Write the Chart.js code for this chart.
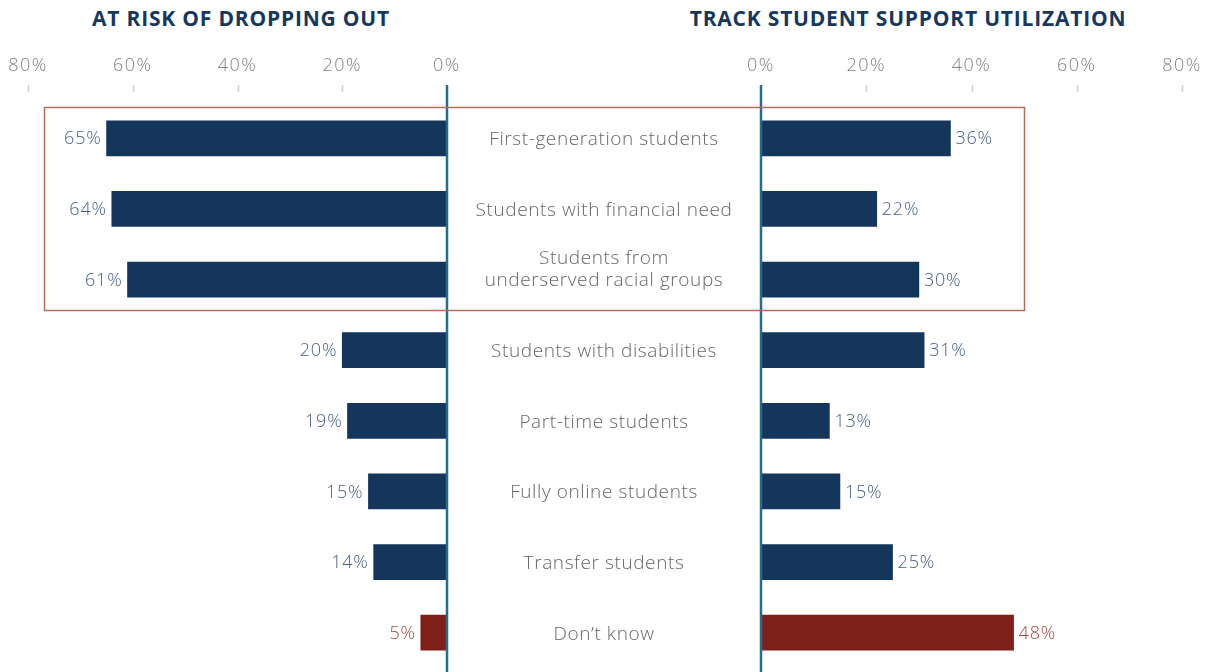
<!DOCTYPE html>
<html><head><meta charset="utf-8">
<script src="https://cdn.jsdelivr.net/npm/chart.js@4.4.1/dist/chart.umd.min.js"></script>
<style>
html,body{margin:0;padding:0;background:#fff;width:1213px;height:672px;overflow:hidden;}
#wrap{position:relative;width:1213px;height:672px;}
canvas{position:absolute;left:0;top:0;}
.title{position:absolute;top:4px;font-family:"Open Sans",sans-serif;font-weight:700;font-size:21px;line-height:28px;color:#17375e;white-space:nowrap;transform:translateX(-50%);letter-spacing:0.8px;}
</style></head><body>
<div id="wrap">
<div class="title" style="left:241px">AT RISK OF DROPPING OUT</div>
<div class="title" style="left:908px">TRACK STUDENT SUPPORT UTILIZATION</div>
<canvas id="leftCanvas" width="1213" height="672"></canvas>
<canvas id="rightCanvas" width="1213" height="672"></canvas>
</div>
<script>
const categories = [
  ["First-generation students"],
  ["Students with financial need"],
  ["Students from", "underserved racial groups"],
  ["Students with disabilities"],
  ["Part-time students"],
  ["Fully online students"],
  ["Transfer students"],
  ["Don\u2019t know"]
];
const atRiskValues = [65, 64, 61, 20, 19, 15, 14, 5];
const trackUtilValues = [36, 22, 30, 31, 13, 15, 25, 48];
const tickValues = [0, 20, 40, 60, 80];
const highlightedRows = [0, 1, 2];
const dontKnowIndex = 7;

const NAVY = '#14365a';
const RED = '#7f1f1a';
const VALUE_NAVY = '#4a6288';
const VALUE_RED = '#a5463f';
const FONT = '"Open Sans", sans-serif';

function barColors(n) {
  return Array.from({length: n}, (_, i) => i === dontKnowIndex ? RED : NAVY);
}

const TICK_TOP = 85, TICK_BOTTOM = 92;

const spacingPlugin = {
  id: 'spacing',
  beforeDraw(chart) { chart.ctx.letterSpacing = '1.5px'; }
};

function decorPlugin(side) {
  return {
    id: 'decor_' + side,
    afterDatasetsDraw(chart) {
      const ctx = chart.ctx;
      const xs = chart.scales.x;
      ctx.save();
      ctx.strokeStyle = '#cfcfcf';
      ctx.lineWidth = 1.5;
      tickValues.forEach(v => {
        if (v === 0) return;
        const px = Math.round(xs.getPixelForValue(v)) + 0.5;
        ctx.beginPath();
        ctx.moveTo(px, TICK_TOP);
        ctx.lineTo(px, TICK_BOTTOM);
        ctx.stroke();
      });
      const zx = xs.getPixelForValue(0);
      ctx.strokeStyle = '#246d8c';
      ctx.lineWidth = 2.5;
      ctx.beginPath();
      ctx.moveTo(zx, TICK_TOP);
      ctx.lineTo(zx, chart.height);
      ctx.stroke();
      const meta = chart.getDatasetMeta(0);
      const vals = chart.data.datasets[0].data;
      ctx.font = '300 18px ' + FONT;
      ctx.letterSpacing = '0.8px';
      ctx.textBaseline = 'middle';
      meta.data.forEach((bar, i) => {
        ctx.fillStyle = i === dontKnowIndex ? VALUE_RED : VALUE_NAVY;
        if (side === 'left') {
          ctx.textAlign = 'right';
          ctx.fillText(vals[i] + '%', bar.x - 5, bar.y + 1);
        } else {
          ctx.textAlign = 'left';
          ctx.fillText(vals[i] + '%', bar.x + 5, bar.y + 1);
        }
      });
      ctx.restore();
    }
  };
}

function makeOptions(side) {
  const isLeft = side === 'left';
  return {
    responsive: false,
    animation: false,
    indexAxis: 'y',
    layout: {
      padding: isLeft
        ? {left: 28, right: 766, top: 0, bottom: 4}
        : {left: 761, right: 31, top: 0, bottom: 4}
    },
    plugins: { legend: {display: false}, tooltip: {enabled: false}, title: {display: false} },
    scales: {
      x: {
        type: 'linear',
        position: 'top',
        min: 0, max: 80,
        reverse: isLeft,
        afterFit(scale) {
          scale.height = 103;
          scale.paddingLeft = 0;
          scale.paddingRight = 0;
        },
        afterBuildTicks(scale) { scale.ticks = tickValues.map(v => ({value: v})); },
        grid: {display: false, drawTicks: false},
        border: {display: false},
        ticks: {
          padding: 26,
          color: '#828282',
          font: {family: FONT, size: 18, weight: '300'},
          callback: v => v + '%',
          maxRotation: 0
        }
      },
      y: {
        type: 'category',
        display: false,
        grid: {display: false}
      }
    }
  };
}

const leftChart = new Chart(document.getElementById('leftCanvas'), {
  type: 'bar',
  data: {
    labels: categories.map(c => c.join(' ')),
    datasets: [{data: atRiskValues, backgroundColor: barColors(atRiskValues.length), barThickness: 35, borderWidth: 0}]
  },
  options: makeOptions('left'),
  plugins: [spacingPlugin, decorPlugin('left')]
});

const centerPlugin = {
  id: 'centerLabels',
  afterDraw(chart) {
    const ctx = chart.ctx;
    const ys = chart.scales.y;
    const cx = (leftChart.scales.x.getPixelForValue(0) + chart.scales.x.getPixelForValue(0)) / 2;
    ctx.save();
    ctx.font = '300 19px ' + FONT;
    ctx.letterSpacing = '0.6px';
    ctx.fillStyle = '#676767';
    ctx.textAlign = 'center';
    ctx.textBaseline = 'middle';
    const lineH = 22;
    categories.forEach((lines, i) => {
      const y = ys.getPixelForValue(i);
      lines.forEach((ln, j) => {
        ctx.fillText(ln, cx, y + 1.5 - (lines.length - 1 - j) * lineH);
      });
    });
    ctx.letterSpacing = '0px';
    const rowH = ys.getPixelForValue(1) - ys.getPixelForValue(0);
    const top = ys.getPixelForValue(highlightedRows[0]) - 0.44 * rowH;
    const bottom = ys.getPixelForValue(highlightedRows[highlightedRows.length - 1]) + 0.43 * rowH;
    const left = leftChart.scales.x.getPixelForValue(77);
    const right = chart.scales.x.getPixelForValue(50);
    ctx.strokeStyle = '#b56c59';
    ctx.lineWidth = 1.5;
    ctx.strokeRect(Math.round(left) + 0.5, Math.round(top) + 0.5, Math.round(right - left), Math.round(bottom - top));
    ctx.restore();
  }
};

const rightChart = new Chart(document.getElementById('rightCanvas'), {
  type: 'bar',
  data: {
    labels: categories.map(c => c.join(' ')),
    datasets: [{data: trackUtilValues, backgroundColor: barColors(trackUtilValues.length), barThickness: 35, borderWidth: 0}]
  },
  options: makeOptions('right'),
  plugins: [spacingPlugin, decorPlugin('right'), centerPlugin]
});
</script>
</body></html>
